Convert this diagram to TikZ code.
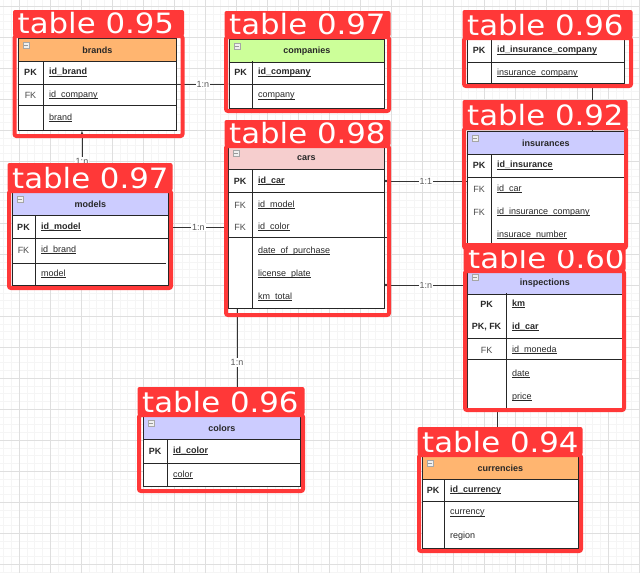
\documentclass[tikz,border=0pt]{standalone}
\usepackage{fontspec}
\usepackage{tikz}
\usepackage{xcolor}
\usetikzlibrary{arrows.meta}
\setmainfont{Liberation Sans}
\newfontfamily\labelfont{DejaVu Sans}
\newcommand{\fieldul}[1]{\underline{\raisebox{0pt}[\height][0pt]{#1}}}

\definecolor{detred}{RGB}{255,56,56}
\definecolor{headorange}{RGB}{255,181,112}
\definecolor{headgreen}{RGB}{204,255,153}
\definecolor{headpink}{RGB}{246,206,206}
\definecolor{headblue}{RGB}{204,204,255}
\definecolor{txtgray}{RGB}{40,40,40}

\begin{document}
\begin{tikzpicture}[x=1pt, y=-1pt,
  every node/.style={font=\fontsize{9}{10}\selectfont, text=txtgray},
  tbl/.style={draw=black!85, line width=0.8pt, fill=white, anchor=north west, inner sep=0, rectangle},
  hdr/.style={draw=black!85, line width=0.8pt, anchor=north west, minimum height=23, inner sep=0,
    font=\fontsize{9}{10}\selectfont\bfseries},
  sep/.style={black!85, line width=0.8pt},
  fld/.style={anchor=west, inner sep=0},
  pk/.style={fld, font=\fontsize{9}{10}\selectfont\bfseries},
  key/.style={inner sep=0, text=black!70},
  keyb/.style={inner sep=0, font=\fontsize{9}{10}\selectfont\bfseries},
  minus/.style={draw=gray!70, fill=gray!12, minimum size=6, inner sep=0,
    path picture={\draw[gray!80] ([xshift=1.2pt]path picture bounding box.west) -- ([xshift=-1.2pt]path picture bounding box.east);}},
  rel/.style={black!80, line width=0.7pt},
  card/.style={fill=white, inner sep=1pt, text=black!65},
  frame/.style={detred, line width=4pt, rounded corners=2pt},
  tag/.style={fill=detred, rounded corners=2pt},
  tagtext/.style={anchor=base west, text=white, inner sep=0, xscale=1.1,
    font=\labelfont\fontsize{28}{28}\selectfont},
  minorgrid/.style={gray!8, line width=0.4pt},
  majorgrid/.style={gray!25, line width=0.5pt}
]
  \useasboundingbox (0,0) rectangle (640,573);

  % Grid
  \fill[white] (0,0) rectangle (640,573);
  \begin{scope}
    \clip (0,0) rectangle (640,573);
    \foreach \i in {0,...,84} \draw[minorgrid] ({-12+7.75*\i},0) -- ({-12+7.75*\i},573);
    \foreach \i in {0,...,75} \draw[minorgrid] (0,{-1.75+7.75*\i}) -- (640,{-1.75+7.75*\i});
    \foreach \i in {0,...,21} \draw[majorgrid] ({-12+31*\i},0) -- ({-12+31*\i},573);
    \foreach \i in {0,...,18} \draw[majorgrid] (0,{6+31*\i}) -- (640,{6+31*\i});
  \end{scope}

  % brands
  \node[tbl, minimum width=158, minimum height=92] (brands) at (18,38) {};
  \node[hdr, fill=headorange, minimum width=158] (brands-h) at (18,38) {brands};
  \node[minus] (brands-m) at (26,45) {};
  \draw[sep] (43,61) -- (43,130);
  \draw[sep] (18,84) -- (176,84);
  \draw[sep] (18,105) -- (176,105);
  \node[keyb] (brands-k1) at (30.5,72.5) {PK};
  \node[key] (brands-k2) at (30.5,95) {FK};
  \node[pk] (brands-f1) at (49,72.5) {\fieldul{id\_brand}};
  \node[fld] (brands-f2) at (49,95) {\fieldul{id\_company}};
  \node[fld] (brands-f3) at (49,118) {\fieldul{brand}};

  % companies
  \node[tbl, minimum width=155, minimum height=69] (companies) at (229,39) {};
  \node[hdr, fill=headgreen, minimum width=155] (companies-h) at (229,39) {companies};
  \node[minus] (companies-m) at (237,46) {};
  \draw[sep] (252,61) -- (252,108);
  \draw[sep] (229,84) -- (384,84);
  \node[keyb] (companies-k1) at (240.5,72.5) {PK};
  \node[pk] (companies-f1) at (258,72.5) {\fieldul{id\_company}};
  \node[fld] (companies-f2) at (258,96) {\fieldul{company}};

  % insurance companies
  \node[tbl, minimum width=157, minimum height=44] (inscomp) at (467,39) {};
  \draw[sep] (491,39) -- (491,83);
  \draw[sep] (467,62) -- (624,62);
  \node[keyb] (inscomp-k1) at (479,50.5) {PK};
  \node[pk] (inscomp-f1) at (497,50.5) {\fieldul{id\_insurance\_company}};
  \node[fld] (inscomp-f2) at (497,73) {\fieldul{insurance\_company}};

  % insurances
  \node[tbl, minimum width=157, minimum height=116] (insurances) at (467,131) {};
  \node[hdr, fill=headblue, minimum width=157] (insurances-h) at (467,131) {insurances};
  \node[minus] (insurances-m) at (475,138) {};
  \draw[sep] (491,154) -- (491,247);
  \draw[sep] (467,177) -- (624,177);
  \node[keyb] (insurances-k1) at (479,165.5) {PK};
  \node[key] (insurances-k2) at (479,189) {FK};
  \node[key] (insurances-k3) at (479,212) {FK};
  \node[pk] (insurances-f1) at (497,165.5) {\fieldul{id\_insurance}};
  \foreach \y/\t [count=\n] in {189/id\_car, 212/id\_insurance\_company, 235/insurace\_number}
    \node[fld] (insurances-g\n) at (497,\y) {\fieldul{\t}};

  % cars
  \node[tbl, minimum width=156, minimum height=162] (cars) at (228,146) {};
  \node[hdr, fill=headpink, minimum width=156] (cars-h) at (228,146) {cars};
  \node[minus] (cars-m) at (236,153) {};
  \draw[sep] (252,169) -- (252,308);
  \draw[sep] (228,192) -- (384,192);
  \draw[sep] (228,237) -- (387,237);
  \node[keyb] (cars-k1) at (240,181) {PK};
  \node[key] (cars-k2) at (240,205) {FK};
  \node[key] (cars-k3) at (240,227) {FK};
  \node[pk] (cars-f1) at (258,181) {\fieldul{id\_car}};
  \foreach \y/\t [count=\n] in {205/id\_model, 227/id\_color, 251/date\_of\_purchase, 274/license\_plate, 297/km\_total}
    \node[fld] (cars-g\n) at (258,\y) {\fieldul{\t}};

  % models
  \node[tbl, minimum width=156, minimum height=93] (models) at (12,192) {};
  \node[hdr, fill=headblue, minimum width=156] (models-h) at (12,192) {models};
  \node[minus] (models-m) at (20,199) {};
  \draw[sep] (35,215) -- (35,285);
  \draw[sep] (12,238) -- (168,238);
  \draw[sep] (12,263) -- (166,263);
  \node[keyb] (models-k1) at (23.5,227) {PK};
  \node[key] (models-k2) at (23.5,250) {FK};
  \node[pk] (models-f1) at (41,227) {\fieldul{id\_model}};
  \node[fld] (models-f2) at (41,250) {\fieldul{id\_brand}};
  \node[fld] (models-f3) at (41,274) {\fieldul{model}};

  % inspections
  \node[tbl, minimum width=155, minimum height=137] (inspections) at (467,271) {};
  \node[hdr, fill=headblue, minimum width=155] (inspections-h) at (467,271) {inspections};
  \node[minus] (inspections-m) at (475,277) {};
  \draw[sep] (506,293) -- (506,408);
  \draw[sep] (467,338) -- (622,338);
  \draw[sep] (467,359) -- (622,359);
  \node[keyb] (inspections-k1) at (486.5,304) {PK};
  \node[keyb] (inspections-k2) at (486.5,327) {PK, FK};
  \node[key] (inspections-k3) at (486.5,350) {FK};
  \node[pk] (inspections-f1) at (512,304) {\fieldul{km}};
  \node[pk] (inspections-f2) at (512,327) {\fieldul{id\_car}};
  \foreach \y/\t [count=\n] in {350/id\_moneda, 374/date, 397/price}
    \node[fld] (inspections-g\n) at (512,\y) {\fieldul{\t}};

  % colors
  \node[tbl, minimum width=157, minimum height=70] (colors) at (143,416) {};
  \node[hdr, fill=headblue, minimum width=157] (colors-h) at (143,416) {colors};
  \node[minus] (colors-m) at (151,423) {};
  \draw[sep] (167,439) -- (167,486);
  \draw[sep] (143,463) -- (300,463);
  \node[keyb] (colors-k1) at (155,451) {PK};
  \node[pk] (colors-f1) at (173,451) {\fieldul{id\_color}};
  \node[fld] (colors-f2) at (173,475) {\fieldul{color}};

  % currencies
  \node[tbl, minimum width=156, minimum height=92] (currencies) at (422,456) {};
  \node[hdr, fill=headorange, minimum width=156] (currencies-h) at (422,456) {currencies};
  \node[minus] (currencies-m) at (430,463) {};
  \draw[sep] (444,479) -- (444,548);
  \draw[sep] (422,501) -- (578,501);
  \node[keyb] (currencies-k1) at (433,490) {PK};
  \node[pk] (currencies-f1) at (450,490) {\fieldul{id\_currency}};
  \node[fld] (currencies-f2) at (450,513) {\fieldul{currency}};
  \node[fld] (currencies-f3) at (450,536) {region};

  % Relations
  \draw[rel, -{Latex[length=4pt,width=3.5pt]}] (brands.east |- 0,84) -- node[card] {1:n} (companies.west |- 0,84);
  \draw[rel, -{Latex[length=4pt,width=3.5pt]}] (models.north -| 82,0) -- node[card] {1:n} (brands.south -| 82,0);
  \draw[rel] (models.east |- 0,227) -- node[card] {1:n} (cars.west |- 0,227);
  \draw[rel, {Circle[length=2.5pt]}-] (cars.east |- 0,181) -- node[card] {1:1} (insurances.west |- 0,181);
  \draw[rel, {Circle[length=2.5pt]}-] (cars.east |- 0,285) -- node[card] {1:n} (inspections.west |- 0,285);
  \draw[rel] (cars.south -| 237,0) -- node[card] {1:n} (colors.north -| 237,0);
  \draw[rel, -{Latex[length=3pt,width=4pt]}] (insurances.north -| 592,0) -- (inscomp.south -| 592,0);
  \draw[rel] (inspections.south -| 497,0) -- (currencies.north -| 497,0);

  % Detections
  \foreach \a/\b/\c/\d/\e/\s in {14.5/182.5/10/36/136/0.95, 226/389/11/37/111/0.97,
      464/631/10/38/86/0.96, 226/389/120/146/315/0.98, 9/171/163/191/288/0.97,
      465/624/243/271/410/0.60, 464/626/100/128/248/0.92, 139/303/387/415/491/0.96,
      419/581/427/455/551/0.94} {
    \draw[frame] (\a,\d) rectangle (\b,\e);
    \fill[tag] ({\a-1.5},\c) rectangle ({\b+1.5},\d);
    \node[tagtext] at ({\a+3},{\d-3}) {table \s};
  }
\end{tikzpicture}
\end{document}
